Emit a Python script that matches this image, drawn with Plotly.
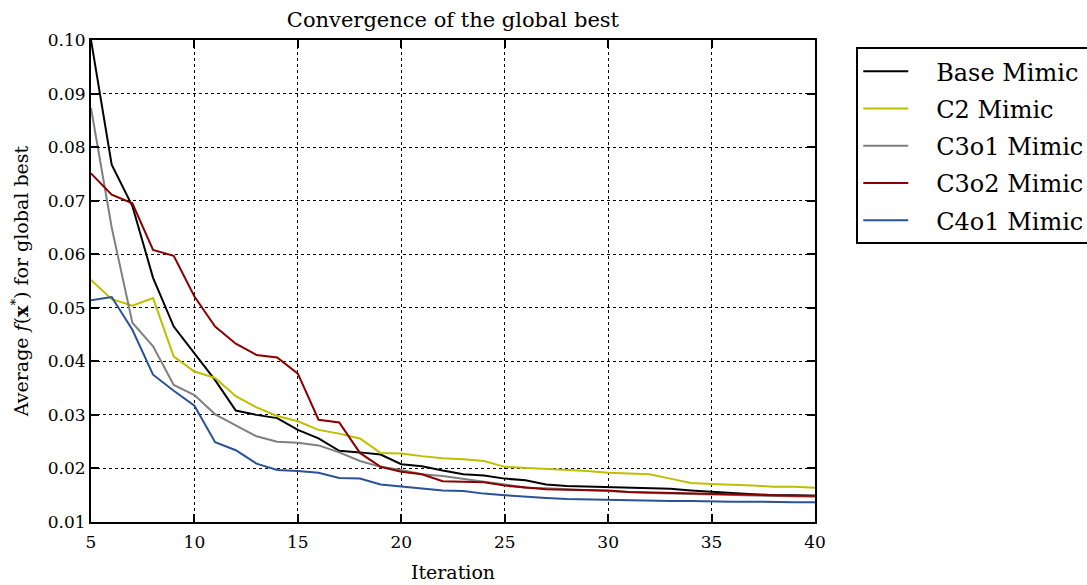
import plotly.graph_objects as go

iterations = list(range(5, 41))

base_mimic = [0.1000, 0.0767, 0.0690, 0.0556, 0.0465, 0.0415, 0.0365, 0.0308, 0.0300, 0.0294,
              0.0272, 0.0256, 0.0233, 0.0230, 0.0226, 0.0208, 0.0204, 0.0196, 0.0189, 0.0187,
              0.0181, 0.0178, 0.0170, 0.0167, 0.0166, 0.0165, 0.0164, 0.0163, 0.0162, 0.0159,
              0.0156, 0.0154, 0.0152, 0.0150, 0.0150, 0.0149]
c2_mimic = [0.0552, 0.0516, 0.0504, 0.0518, 0.0409, 0.0381, 0.0369, 0.0335, 0.0314, 0.0298,
            0.0288, 0.0272, 0.0265, 0.0256, 0.0229, 0.0228, 0.0223, 0.0219, 0.0217, 0.0214,
            0.0203, 0.0201, 0.0199, 0.0198, 0.0195, 0.0192, 0.0190, 0.0189, 0.0181, 0.0173,
            0.0171, 0.0170, 0.0168, 0.0166, 0.0166, 0.0164]
c3o1_mimic = [0.0873, 0.0650, 0.0472, 0.0428, 0.0356, 0.0337, 0.0301, 0.0281, 0.0260, 0.0250,
              0.0248, 0.0243, 0.0230, 0.0214, 0.0203, 0.0197, 0.0189, 0.0186, 0.0180, 0.0175,
              0.0170, 0.0164, 0.0163, 0.0161, 0.0160, 0.0157, 0.0155, 0.0154, 0.0153, 0.0152,
              0.0151, 0.0150, 0.0149, 0.0148, 0.0147, 0.0147]
c3o2_mimic = [0.0751, 0.0711, 0.0695, 0.0608, 0.0597, 0.0521, 0.0465, 0.0433, 0.0412, 0.0407,
              0.0377, 0.0291, 0.0286, 0.0229, 0.0203, 0.0194, 0.0189, 0.0176, 0.0175, 0.0174,
              0.0168, 0.0164, 0.0161, 0.0160, 0.0159, 0.0159, 0.0156, 0.0155, 0.0154, 0.0153,
              0.0153, 0.0152, 0.0151, 0.0150, 0.0149, 0.0149]
c4o1_mimic = [0.0514, 0.0520, 0.0459, 0.0375, 0.0345, 0.0317, 0.0249, 0.0234, 0.0209, 0.0197,
              0.0195, 0.0192, 0.0182, 0.0181, 0.0170, 0.0166, 0.0162, 0.0159, 0.0158, 0.0153,
              0.0150, 0.0147, 0.0145, 0.0143, 0.0142, 0.0141, 0.0140, 0.0140, 0.0139, 0.0139,
              0.0138, 0.0138, 0.0138, 0.0137, 0.0137, 0.0137]

series_names = ["Base Mimic", "C2 Mimic", "C3o1 Mimic", "C3o2 Mimic", "C4o1 Mimic"]
series_values = [base_mimic, c2_mimic, c3o1_mimic, c3o2_mimic, c4o1_mimic]
series_colors = ["#000000", "#bfbf00", "#808080", "#8b0000", "#2a5298"]

x_ticks = [5, 10, 15, 20, 25, 30, 35, 40]
y_ticks = [0.01, 0.02, 0.03, 0.04, 0.05, 0.06, 0.07, 0.08, 0.09, 0.10]

FONT = "DejaVu Serif"
PAD = "\u00a0\u00a0\u00a0"

fig = go.Figure()
for name, vals, col in zip(series_names, series_values, series_colors):
    fig.add_trace(go.Scatter(x=iterations, y=vals, mode="lines", name=PAD + name,
                             legendgroup=name,
                             line=dict(color=col, width=2)))

axis_common = dict(
    showline=True, linecolor="black", linewidth=2, mirror="ticks",
    ticks="inside", ticklen=8, tickwidth=1.5, tickcolor="black",
    showgrid=True, gridcolor="black", griddash="dot", gridwidth=1,
    zeroline=False, tickfont=dict(family=FONT, size=17, color="black"),
)

fig.update_layout(
    width=1087, height=585,
    paper_bgcolor="white", plot_bgcolor="white",
    margin=dict(l=91, r=272, t=40, b=63, autoexpand=False),
    title=dict(text="Convergence of the global best", x=0.4167, xanchor="center",
               y=0.967, yanchor="middle",
               font=dict(family=FONT, size=21, color="black")),
    xaxis=dict(range=[5, 40], tickvals=x_ticks, ticktext=[str(t) for t in x_ticks],
               title=dict(text="Iteration", font=dict(family=FONT, size=19, color="black"),
                          standoff=14),
               ticklabelstandoff=4,
               **axis_common),
    yaxis=dict(range=[0.01, 0.10], tickvals=y_ticks, ticktext=[f"{t:.2f}" for t in y_ticks],
               title=dict(text="Average <i>f</i>(<b>x</b><sup>*</sup>) for global best",
                          font=dict(family=FONT, size=19, color="black"), standoff=14),
               **axis_common),
    legend=dict(x=1.057, y=0.985, xanchor="left", yanchor="top",
                bordercolor="black", borderwidth=2, bgcolor="white",
                font=dict(family=FONT, size=24, color="black"),
                tracegroupgap=3, itemwidth=45),
)

fig.write_html("out.html")
